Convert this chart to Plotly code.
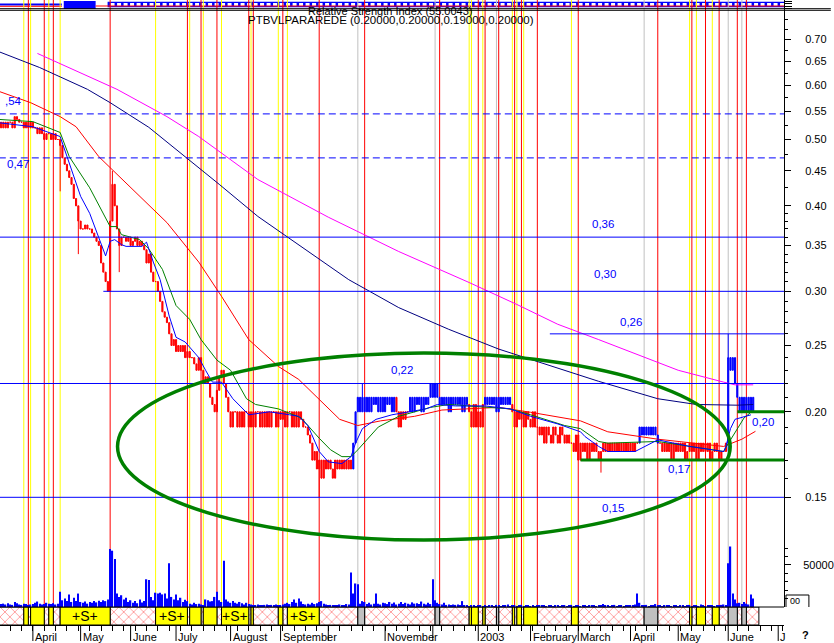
import math
import plotly.graph_objects as go

# ---------------- data ----------------
# daily closes, one per trading session (session 0 = 11 Mar 2002)
closes = [
    0.53, 0.52, 0.53, 0.52, 0.53, 0.53, 0.52, 0.54, 0.535, 0.53,
    0.53, 0.52, 0.53, 0.52, 0.53, 0.52, 0.52, 0.51, 0.52, 0.51,
    0.50, 0.51, 0.51, 0.50, 0.51, 0.50, 0.50, 0.49, 0.47, 0.46,
    0.45, 0.44, 0.43, 0.41, 0.40, 0.38, 0.37, 0.37, 0.375, 0.37,
    0.37, 0.365, 0.36, 0.355, 0.35, 0.33, 0.32, 0.31, 0.30, 0.38,
    0.43, 0.40, 0.37, 0.35, 0.36, 0.36, 0.355, 0.36, 0.35, 0.355,
    0.36, 0.35, 0.355, 0.35, 0.345, 0.33, 0.34, 0.32, 0.31, 0.31,
    0.30, 0.29, 0.28, 0.275, 0.27, 0.26, 0.25, 0.255, 0.245, 0.25,
    0.245, 0.25, 0.24, 0.245, 0.24, 0.24, 0.235, 0.23, 0.24, 0.23,
    0.22, 0.225, 0.22, 0.21, 0.205, 0.20, 0.215, 0.225, 0.23, 0.22,
    0.21, 0.20, 0.19, 0.20, 0.20, 0.19, 0.20, 0.19, 0.20, 0.20,
    0.19, 0.20, 0.19, 0.20, 0.20, 0.19, 0.20, 0.19, 0.20, 0.19,
    0.20, 0.20, 0.19, 0.20, 0.195, 0.20, 0.19, 0.20, 0.20, 0.19,
    0.20, 0.19, 0.20, 0.195, 0.19, 0.19, 0.185, 0.18, 0.17, 0.175,
    0.165, 0.17, 0.16, 0.17, 0.165, 0.17, 0.165, 0.16, 0.17, 0.165,
    0.17, 0.165, 0.17, 0.165, 0.17, 0.165, 0.18, 0.20, 0.21, 0.20,
    0.21, 0.20, 0.21, 0.20, 0.21, 0.205, 0.21, 0.20, 0.21, 0.20,
    0.21, 0.205, 0.21, 0.20, 0.21, 0.20, 0.19, 0.20, 0.195, 0.20,
    0.20, 0.21, 0.20, 0.21, 0.205, 0.21, 0.20, 0.21, 0.205, 0.21,
    0.22, 0.21, 0.22, 0.21, 0.205, 0.21, 0.205, 0.21, 0.20, 0.21,
    0.205, 0.21, 0.205, 0.21, 0.20, 0.21, 0.205, 0.20, 0.19, 0.205,
    0.19, 0.20, 0.19, 0.205, 0.21, 0.205, 0.21, 0.205, 0.21, 0.20,
    0.21, 0.205, 0.21, 0.205, 0.21, 0.205, 0.20, 0.19, 0.20, 0.195,
    0.20, 0.19, 0.20, 0.195, 0.19, 0.20, 0.19, 0.19, 0.185, 0.19,
    0.18, 0.19, 0.185, 0.18, 0.19, 0.185, 0.18, 0.19, 0.185, 0.18,
    0.185, 0.18, 0.18, 0.175, 0.185, 0.17, 0.18, 0.175, 0.18, 0.17,
    0.18, 0.175, 0.18, 0.175, 0.17, 0.175, 0.18, 0.175, 0.18, 0.175,
    0.18, 0.175, 0.18, 0.175, 0.18, 0.175, 0.18, 0.175, 0.18, 0.175,
    0.18, 0.18, 0.19, 0.185, 0.19, 0.185, 0.19, 0.185, 0.19, 0.185,
    0.18, 0.18, 0.175, 0.18, 0.175, 0.18, 0.17, 0.18, 0.175, 0.18,
    0.175, 0.18, 0.17, 0.175, 0.18, 0.175, 0.18, 0.17, 0.18, 0.175,
    0.18, 0.175, 0.18, 0.17, 0.175, 0.18, 0.175, 0.17, 0.175, 0.175,
    0.18, 0.24, 0.23, 0.24, 0.22, 0.21, 0.20, 0.21, 0.20, 0.21,
    0.20, 0.21, 0.20,
]
# extra intraday extremes (session -> price)
wick_high = {50: 0.45, 160: 0.22, 321: 0.26}
wick_low = {27: 0.42, 35: 0.34, 49: 0.31, 53: 0.32, 141: 0.15, 265: 0.163, 321: 0.175}
# sessions drawn in blue (inclusive ranges)
blue_runs = [(156, 174), (181, 206), (214, 225), (282, 290), (321, 332)]

volumes = [
    5000, 3500, 4000, 3000, 4500, 3000, 2500, 6000, 4500, 3000,
    2500, 4000, 3500, 2500, 3000, 3500, 5000, 6500, 4000, 3000,
    3500, 5000, 4000, 3500, 4500, 3000, 4000, 18000, 8000, 10000,
    7000, 15000, 6000, 11000, 7000, 16000, 6000, 5000, 6500, 4000,
    6000, 5000, 7000, 5500, 7500, 6000, 8000, 7000, 9000, 69000,
    67000, 57000, 16000, 12000, 14000, 9000, 11000, 6000, 8000, 5000,
    7000, 4500, 9000, 5500, 7000, 33000, 32000, 12000, 8000, 17000,
    16000, 17000, 15000, 16000, 10000, 52000, 12000, 9000, 15000, 8000,
    11000, 6000, 8500, 7000, 4000, 3000, 5000, 3500, 4000, 3000,
    2500, 9000, 8000, 6500, 7000, 12000, 18000, 8000, 6000, 55000,
    9000, 6500, 5000, 7000, 5000, 4000, 6000, 4500, 3000, 5000,
    3500, 3000, 2500, 2000, 3000, 2500, 2000, 2500, 3000, 2000,
    2500, 2000, 3000, 2500, 2000, 3000, 4000, 5000, 3500, 6000,
    9000, 5000, 10000, 6500, 3500, 3000, 4000, 3000, 5000, 3500,
    4500, 6000, 7000, 4000, 3000, 2500, 2500, 2000, 2500, 2000,
    3000, 2000, 2500, 3500, 3000, 41000, 16000, 28000, 27000, 4000,
    7000, 6000, 3500, 5000, 3000, 4000, 16000, 4000, 3000, 5000,
    4500, 3500, 6000, 4000, 5500, 3000, 4000, 6000, 3500, 5000,
    4000, 3000, 5500, 4000, 4500, 3500, 6500, 4000, 3000, 5000,
    3500, 33000, 8000, 5000, 3500, 3000, 5000, 2500, 3000, 2000,
    3000, 2500, 3000, 2000, 7000, 1500, 2000, 1000, 1500, 2500,
    1000, 1500, 2000, 1000, 1500, 1000, 2000, 1500, 1000, 2500,
    1500, 1000, 2000, 1500, 3000, 1000, 1500, 2000, 1000, 1500,
    2500, 1000, 1500, 2000, 1000, 1500, 1000, 2000, 1500, 2500,
    1500, 1000, 2000, 1500, 1000, 2000, 1500, 1000, 1500, 2000,
    1000, 1500, 2500, 1000, 2000, 1500, 1000, 1500, 2000, 1000,
    1500, 2000, 1500, 1000, 2000, 1500, 3500, 1500, 2000, 1000,
    1500, 2500, 1000, 2000, 1500, 1000, 2000, 2500, 1500, 2000,
    3000, 16000, 5000, 2000, 1500, 2500, 1000, 2000, 1500, 3500,
    2000, 1500, 1000, 2000, 1500, 2500, 1000, 1500, 2000, 1000,
    1500, 2000, 1000, 1500, 2500, 1000, 2000, 1500, 1000, 3000,
    1500, 1000, 2000, 1500, 2500, 1000, 2000, 1500, 2500, 3000,
    2500, 52000, 72000, 16000, 9000, 4500, 5000, 3500, 6000, 4000,
    3000, 15000, 10000,
]

# moving averages (session, price)
ma_fast_s = [0, 15, 27, 30, 36, 40, 47, 49, 51, 54, 56, 63, 65, 68, 71, 75, 78, 82, 88, 91, 94, 98,
             103, 110, 119, 128, 132, 136, 141, 145, 151, 155, 157, 160, 166, 173, 180, 188, 193,
             201, 214, 225, 234, 246, 256, 258, 264, 268, 280, 290, 304, 319, 320, 322, 324, 328, 331]
ma_fast_p = [0.529, 0.522, 0.505, 0.472, 0.413, 0.39, 0.338, 0.355, 0.357, 0.351, 0.349, 0.349, 0.354,
             0.331, 0.312, 0.276, 0.257, 0.253, 0.240, 0.230, 0.221, 0.221, 0.209, 0.198, 0.200, 0.198,
             0.197, 0.191, 0.175, 0.169, 0.168, 0.172, 0.180, 0.189, 0.195, 0.198, 0.200, 0.202, 0.205,
             0.204, 0.204, 0.202, 0.197, 0.192, 0.187, 0.184, 0.178, 0.175, 0.175, 0.182, 0.178, 0.175,
             0.178, 0.189, 0.195, 0.197, 0.198]
ma_mid_s = [0, 15, 27, 31, 40, 49, 52, 54, 62, 66, 72, 78, 84, 89, 96, 102, 109, 113, 123, 133, 141,
            146, 151, 155, 158, 167, 176, 190, 198, 208, 225, 234, 249, 256, 264, 268, 290, 319, 320,
            328, 331]
ma_mid_p = [0.535, 0.531, 0.512, 0.472, 0.425, 0.373, 0.373, 0.363, 0.357, 0.346, 0.323, 0.286, 0.273,
            0.255, 0.238, 0.230, 0.209, 0.205, 0.202, 0.196, 0.183, 0.176, 0.172, 0.172, 0.176, 0.190,
            0.197, 0.203, 0.205, 0.204, 0.202, 0.198, 0.191, 0.189, 0.181, 0.180, 0.181, 0.175, 0.1775,
            0.196, 0.1997]
ma_30_s = [0, 14, 27, 34, 44, 59, 74, 88, 98, 110, 123, 132, 142, 150, 158, 168, 183, 195, 220, 234,
           256, 268, 290, 319, 327, 333]
ma_30_p = [0.588, 0.566, 0.540, 0.522, 0.472, 0.423, 0.378, 0.331, 0.295, 0.255, 0.233, 0.223, 0.207,
           0.195, 0.191, 0.194, 0.197, 0.2012, 0.203, 0.1997, 0.194, 0.187, 0.1824, 0.178, 0.1824, 0.1873]
ma_100_s = [0, 18, 39, 49, 66, 82, 97, 114, 132, 154, 176, 198, 220, 246, 264, 290, 307, 325, 332]
ma_100_p = [0.672, 0.637, 0.592, 0.566, 0.521, 0.472, 0.430, 0.386, 0.351, 0.312, 0.284, 0.264, 0.247,
            0.232, 0.2216, 0.209, 0.205, 0.2045, 0.205]
ma_200_s = [17, 52, 74, 88, 114, 145, 176, 207, 228, 246, 264, 290, 299, 319, 324, 332]
ma_200_p = [0.668, 0.592, 0.540, 0.505, 0.437, 0.385, 0.343, 0.309, 0.287, 0.2685, 0.255, 0.236, 0.230,
            0.221, 0.219, 0.219]

# drawn price levels
level_prices = [0.545, 0.47, 0.36, 0.30, 0.26, 0.22, 0.15]
level_from = [0, 0, 0, 46, 242.5, 0, 0]
level_dashed = [True, True, False, False, False, False, False]
support_prices = [0.17, 0.20]
support_from = [256, 325]
level_texts = [",54", "0,47", "0,36", "0,30", "0,26", "0,22", "0,20", "0,17", "0,15"]

# trading signals: session and kind (Y = buy, R = sell, G = neutral)
signal_sessions = [11, 13, 14, 20, 22, 24, 27, 49, 69, 83, 84, 89, 90, 96, 98, 110, 111, 112, 123, 125,
                   127, 141, 158, 161, 192, 194, 207, 208, 211, 213, 214, 219, 220, 226, 227, 228, 230,
                   231, 237, 252, 255, 284, 290, 304, 305, 307, 311, 314, 317, 321, 325, 327, 329]
signal_kinds = ["Y", "R", "Y", "R", "Y", "R", "Y", "R", "Y", "R", "Y", "R", "Y", "R", "Y", "R", "Y", "R",
                "Y", "R", "Y", "R", "G", "R", "G", "R", "Y", "Y", "R", "Y", "R", "G", "R", "Y", "R", "Y",
                "R", "Y", "R", "Y", "R", "G", "R", "Y", "R", "Y", "R", "Y", "R", "G", "R", "G", "R"]

month_sessions = [15, 36, 58, 78, 102, 124, 145, 170, 191, 211, 234, 255, 278, 299, 321, 343]
month_labels = ["April", "May", "June", "July", "August", "September", "", "November", "", "2003",
                "February", "March", "April", "May", "June", "J"]
price_ticks = [0.70, 0.65, 0.60, 0.55, 0.50, 0.45, 0.40, 0.35, 0.30, 0.25, 0.20, 0.15]
volume_ticks = [50000]

title_rsi = "Relative Strength Index (55.0043)"
title_main = "PTBVLPARAREDE (0.20000,0.20000,0.19000,0.20000)"

# ---------------- layout helpers ----------------
PW, PH = 787.0, 628.0
FONT = "Liberation Sans, Arial, sans-serif"


def xp(px):
    return px / PW


def yp(py):
    return (PH - py) / PH


X_RANGE = [0.526, 345.55]
Y_PRICE_RANGE = [-0.8863, -0.1122]
VOL_TOP = 79730

n = len(closes)
opens = [closes[0]] + closes[:-1]
highs = [max(opens[i], closes[i], wick_high.get(i, 0)) for i in range(n)]
lows = [min(opens[i], closes[i], wick_low.get(i, 9)) for i in range(n)]
blue_mask = [any(a <= i <= b for a, b in blue_runs) for i in range(n)]

fig = go.Figure()

for want_blue, col in ((False, "#FF0000"), (True, "#0000FF")):
    ids = [i for i in range(n) if blue_mask[i] == want_blue]
    fig.add_trace(go.Candlestick(
        x=ids, open=[opens[i] for i in ids], high=[highs[i] for i in ids],
        low=[lows[i] for i in ids], close=[closes[i] for i in ids],
        increasing=dict(line=dict(color=col, width=1), fillcolor=col),
        decreasing=dict(line=dict(color=col, width=1), fillcolor=col),
        whiskerwidth=0, xaxis="x", yaxis="y", hoverinfo="skip", showlegend=False))

# moving averages
for s, p, col in ((ma_100_s, ma_100_p, "#000080"), (ma_200_s, ma_200_p, "#FF00FF"),
                  (ma_30_s, ma_30_p, "#FF0000"), (ma_mid_s, ma_mid_p, "#008000"),
                  (ma_fast_s, ma_fast_p, "#0000FF")):
    fig.add_trace(go.Scatter(x=s, y=p, mode="lines", line=dict(color=col, width=1),
                             xaxis="x", yaxis="y", hoverinfo="skip", showlegend=False))

# level lines
for p, s0, dashed in zip(level_prices, level_from, level_dashed):
    fig.add_trace(go.Scatter(x=[s0, X_RANGE[1]], y=[p, p], mode="lines",
                             line=dict(color="#0000FF", width=1, dash="7px,4px" if dashed else "solid"),
                             xaxis="x", yaxis="y", hoverinfo="skip", showlegend=False))
for p, s0 in zip(support_prices, support_from):
    fig.add_trace(go.Scatter(x=[s0, X_RANGE[1]], y=[p, p], mode="lines",
                             line=dict(color="#008000", width=3),
                             xaxis="x", yaxis="y", hoverinfo="skip", showlegend=False))

# volume
fig.add_trace(go.Bar(x=list(range(len(volumes))), y=volumes, width=0.6,
                     marker=dict(color="#0000FF", line=dict(width=0)),
                     xaxis="x", yaxis="y2", hoverinfo="skip", showlegend=False))

# signal strip
seg_start = [-0.5] + signal_sessions
seg_kind = ["R"] + signal_kinds
seg_end = signal_sessions + [n + 1.5]
strip_style = {
    "R": dict(color="white", pattern=dict(shape="x", fgcolor="#FF0000", bgcolor="white", size=7, solidity=0.2)),
    "Y": dict(color="#FFFF00"),
    "G": dict(color="#C0C0C0"),
}
for kind in ("R", "Y", "G"):
    segs = [(a, b) for a, b, k in zip(seg_start, seg_end, seg_kind) if k == kind]
    fig.add_trace(go.Bar(
        x=[(a + b) / 2 for a, b in segs], y=[1] * len(segs), width=[b - a for a, b in segs], base=0,
        marker=dict(line=dict(color="black", width=1), **strip_style[kind]),
        xaxis="x", yaxis="y3", hoverinfo="skip", showlegend=False))

# dummy trace for the top RSI strip axis
fig.add_trace(go.Scatter(x=[X_RANGE[0]], y=[0.5], mode="markers", marker=dict(opacity=0),
                         xaxis="x", yaxis="y4", hoverinfo="skip", showlegend=False))

shapes = []
# top RSI strip (compressed indicator panel)
shapes.append(dict(type="line", xref="paper", yref="paper", x0=0, x1=xp(62), y0=yp(4.5), y1=yp(4.5),
                   line=dict(color="#0000FF", width=2), layer="below"))
shapes.append(dict(type="line", xref="paper", yref="paper", x0=0, x1=xp(62), y0=yp(6.3), y1=yp(6.3),
                   line=dict(color="#FF0000", width=1), layer="below"))
shapes.append(dict(type="rect", xref="paper", yref="paper", x0=xp(64), x1=xp(96), y0=yp(9), y1=yp(1),
                   fillcolor="#0000FF", line=dict(width=0), layer="below"))
shapes.append(dict(type="rect", xref="paper", yref="paper", x0=xp(108), x1=1, y0=yp(7.3), y1=yp(1.7),
                   fillcolor="#0000FF", line=dict(width=0), layer="below"))
shapes.append(dict(type="line", xref="paper", yref="paper", x0=xp(111), x1=1, y0=yp(4.5), y1=yp(4.5),
                   line=dict(color="white", width=3, dash="4px,2.5px"), layer="below"))
shapes.append(dict(type="line", xref="paper", yref="paper", x0=xp(96), x1=1, y0=yp(6.0), y1=yp(6.0),
                   line=dict(color="#FF0000", width=1), layer="below"))
# signal lines
line_col = {"Y": "#FFFF00", "R": "#FF0000", "G": "#C0C0C0"}
for s, k in zip(signal_sessions, signal_kinds):
    shapes.append(dict(type="line", xref="x", yref="paper", x0=s, x1=s, y0=yp(607), y1=1,
                       line=dict(color=line_col[k], width=1), layer="below"))
# black separators at the top
for py in (8.7, 10.3):
    shapes.append(dict(type="line", xref="paper", yref="paper", x0=0, x1=834 / PW, y0=yp(py), y1=yp(py),
                       line=dict(color="black", width=1)))
# volume baseline / strip top
shapes.append(dict(type="line", xref="paper", yref="paper", x0=0, x1=1, y0=yp(607), y1=yp(607),
                   line=dict(color="black", width=1)))
# month tick marks
for s in month_sessions:
    shapes.append(dict(type="line", xref="x", yref="paper", x0=s, x1=s, y0=yp(626), y1=yp(641),
                       line=dict(color="black", width=1)))
# ellipse highlighting the base
shapes.append(dict(type="circle", xref="paper", yref="paper", x0=xp(118), x1=xp(733), y0=yp(540),
                   y1=yp(353), line=dict(color="#008000", width=3.5)))
# small scale box at bottom right
shapes.append(dict(type="path", xref="paper", yref="paper",
                   path=f"M {xp(789)} {yp(607)} L {xp(789)} {yp(595)} L {xp(812)} {yp(595)} L {xp(812)} {yp(607)}",
                   line=dict(color="black", width=1)))

ann = []
ann.append(dict(text=title_rsi, x=xp(392), y=yp(10.5), xref="paper", yref="paper", showarrow=False,
                xanchor="center", yanchor="middle", font=dict(family=FONT, size=11, color="black")))
ann.append(dict(text=title_main, x=xp(392), y=yp(20), xref="paper", yref="paper", showarrow=False,
                xanchor="center", yanchor="middle", font=dict(family=FONT, size=11.5, color="black")))
label_pos = [(3, 101), (5, 164), (592, 224), (594, 274), (620, 322), (390, 370), (753, 422), (669, 469), (602, 508)]
for t, (lx, ly) in zip(level_texts, label_pos):
    ann.append(dict(text=t, x=xp(lx), y=yp(ly), xref="paper", yref="paper", xanchor="left",
                    yanchor="middle", showarrow=False, font=dict(family=FONT, size=11.5, color="#0000FF")))
for s, t in zip(month_sessions, month_labels):
    if t:
        ann.append(dict(text=t, x=s, y=yp(636.5), xref="x", yref="paper", xanchor="left", yanchor="middle",
                        xshift=0, showarrow=False, font=dict(family=FONT, size=11, color="black")))
for a, b, k in zip(seg_start, seg_end, seg_kind):
    if k == "Y" and b - a >= 9:
        ann.append(dict(text="+S+", x=(a + b) / 2, y=yp(616), xref="x", yref="paper", showarrow=False,
                        xanchor="center", yanchor="middle", font=dict(family=FONT, size=14, color="black")))
ann.append(dict(text="00", x=xp(791), y=yp(601), xref="paper", yref="paper", xanchor="left",
                yanchor="middle", showarrow=False, font=dict(family=FONT, size=9, color="black")))
ann.append(dict(text="<b>?</b>", x=xp(809), y=yp(635), xref="paper", yref="paper", showarrow=False,
                xanchor="center", yanchor="middle", font=dict(family=FONT, size=11, color="black")))

price_minor = [0.16, 0.17, 0.18, 0.19, 0.21, 0.22, 0.23, 0.24, 0.26, 0.27, 0.28, 0.29, 0.31, 0.32, 0.33,
               0.34, 0.36, 0.37, 0.38, 0.39, 0.425, 0.475, 0.525, 0.575, 0.625, 0.675, 0.725, 0.75]

fig.update_layout(
    width=834, height=643, margin=dict(l=0, r=47, t=0, b=15),
    paper_bgcolor="white", plot_bgcolor="rgba(0,0,0,0)",
    showlegend=False, hovermode=False, barmode="overlay",
    font=dict(family=FONT, size=11, color="black"),
    shapes=shapes, annotations=ann,
    xaxis=dict(domain=[0, 1], range=X_RANGE, anchor="y3", showgrid=False, zeroline=False,
               tickmode="array", tickvals=list(range(0, 346, 5)), showticklabels=False,
               ticks="outside", ticklen=5, tickcolor="black", showline=True, linecolor="black",
               linewidth=1, rangeslider=dict(visible=False), fixedrange=True),
    yaxis=dict(domain=[yp(540), yp(10.3)], type="log", range=Y_PRICE_RANGE, side="right", anchor="x",
               showgrid=False, zeroline=False, tickmode="array", tickvals=price_ticks,
               ticktext=[f"{v:.2f}" for v in price_ticks], ticks="outside", ticklen=6,
               tickcolor="black", showline=True, linecolor="black", ticklabelstandoff=12,
               tickfont=dict(family=FONT, size=11, color="black"),
               minor=dict(tickmode="array", tickvals=price_minor, ticks="outside", ticklen=3,
                          tickcolor="black", showgrid=False)),
    yaxis2=dict(domain=[yp(607), yp(540)], range=[0, VOL_TOP], side="right", anchor="x",
                showgrid=False, zeroline=False, tickmode="array", tickvals=volume_ticks,
                ticktext=["50000"], ticks="outside", ticklen=6, tickcolor="black", showline=True,
                linecolor="black", ticklabelstandoff=10, tickfont=dict(family=FONT, size=11, color="black"),
                minor=dict(tickmode="array", tickvals=[10000, 20000, 30000, 40000, 60000, 70000],
                           ticks="outside", ticklen=3, tickcolor="black", showgrid=False)),
    yaxis3=dict(domain=[yp(625), yp(607)], range=[0, 1], anchor="x", showgrid=False, zeroline=False,
                showticklabels=False, ticks="", showline=False),
    yaxis4=dict(domain=[yp(10.3), 1], range=[0, 1], side="right", anchor="x", showgrid=False,
                zeroline=False, showticklabels=False, tickmode="array", tickvals=[0.15, 0.4, 0.65, 0.9],
                ticks="outside", ticklen=7, tickcolor="black", showline=True, linecolor="black"),
)

fig.write_html("out.html", config={"displayModeBar": False},
               post_script="document.body.style.margin='0';document.body.style.overflow='hidden';")
